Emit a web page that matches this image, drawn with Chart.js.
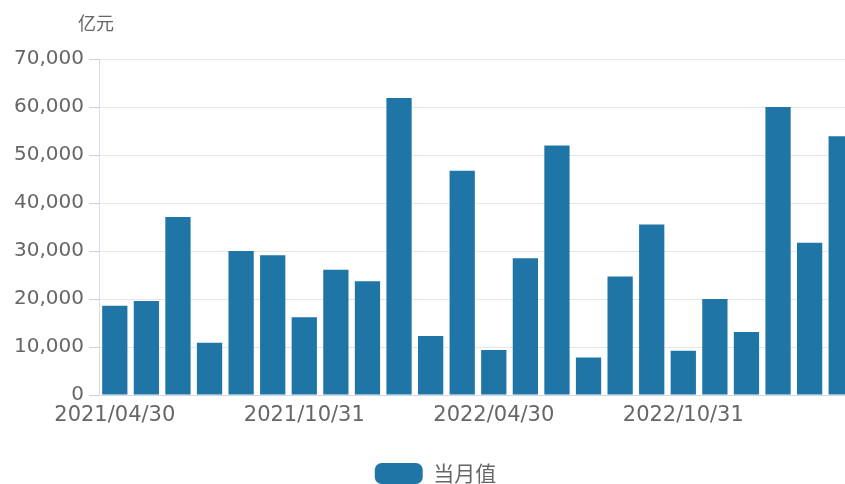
<!DOCTYPE html>
<html>
<head>
<meta charset="utf-8">
<script src="https://cdn.jsdelivr.net/npm/chart.js@4/dist/chart.umd.min.js"></script>
<style>
html,body{margin:0;padding:0;background:#fff;overflow:hidden;width:845px;height:484px;}
#wrap{position:absolute;left:0;top:0;width:870px;height:494px;}
</style>
</head>
<body>
<div id="wrap"><canvas id="c" width="870" height="494"></canvas></div>
<script>
const categories = ["2021/04/30","2021/05/31","2021/06/30","2021/07/31","2021/08/31","2021/09/30",
  "2021/10/31","2021/11/30","2021/12/31","2022/01/31","2022/02/28","2022/03/31",
  "2022/04/30","2022/05/31","2022/06/30","2022/07/31","2022/08/31","2022/09/30",
  "2022/10/31","2022/11/30","2022/12/31","2023/01/31","2023/02/28","2023/03/31"];
const monthValues = [18600,19600,37100,10900,30000,29100,16200,26100,23700,61900,12300,46700,
  9400,28500,52000,7800,24700,35500,9200,20000,13100,60000,31700,53900];
const seriesName = "当月值";
const unitLabel = "亿元";
const yTicks = [0,10000,20000,30000,40000,50000,60000,70000];

const gray = '#666666';
const unitPlugin = {
  id:'unit',
  afterDraw(chart){
    const ctx = chart.ctx, a = chart.chartArea;
    ctx.save();
    ctx.font = '18px "Noto Sans CJK SC"';
    ctx.fillStyle = gray;
    ctx.textBaseline = 'middle';
    ctx.textAlign = 'left';
    ctx.fillText(unitLabel, a.left - 21, a.top - 36);
    ctx.restore();
  }
};

new Chart(document.getElementById('c'), {
  type:'bar',
  data:{
    labels:categories,
    datasets:[{
      label:seriesName,
      data:monthValues,
      backgroundColor:'#1f76a6',
      borderWidth:0,
      categoryPercentage:0.8,
      barPercentage:1.0
    }]
  },
  options:{
    responsive:false,
    animation:false,
    devicePixelRatio:1,
    layout:{padding:{left:14,right:13,top:59,bottom:0}},
    plugins:{
      tooltip:{enabled:false},
      title:{display:false},
      legend:{
        position:'bottom',
        labels:{
          boxWidth:48, boxHeight:21, useBorderRadius:true, borderRadius:7,
          color:gray, font:{family:'"Noto Sans CJK SC"', size:21}, padding:10
        }
      }
    },
    scales:{
      x:{
        grid:{drawOnChartArea:false, drawTicks:true, tickLength:7,
          color:(c)=> (c.index % 6 === 0 ? '#ccd6eb' : 'rgba(0,0,0,0)')},
        border:{display:true, color:'#ccd6eb'},
        ticks:{autoSkip:false, maxRotation:0, minRotation:0, padding:1,
          color:gray, font:{family:'"DejaVu Sans"', size:21},
          callback:function(v,i){ return i % 6 === 0 ? categories[i] : null; }},
        afterFit:(s)=>{ s.height = 58; }
      },
      y:{
        min:0, max:70000,
        afterBuildTicks:(s)=>{ s.ticks = yTicks.map(v=>({value:v})); },
        grid:{color:'#e6e6e6', tickLength:10, tickColor:'#c8cfdc'},
        border:{display:true, color:'#dcdce6'},
        ticks:{padding:5, color:gray, font:{family:'"DejaVu Sans"', size:20},
          callback:(v)=> v.toLocaleString('en-US')},
        afterFit:(s)=>{ s.width = 85; }
      }
    }
  },
  plugins:[unitPlugin]
});
</script>
</body>
</html>
